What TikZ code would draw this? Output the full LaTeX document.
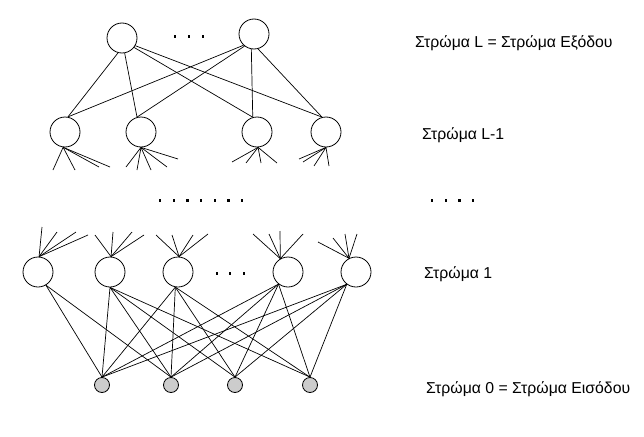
\documentclass[tikz,border=0pt]{standalone}
\usepackage{fontspec}
\setmainfont{Liberation Sans}
\begin{document}
\begin{tikzpicture}[x=1pt,y=-1pt,
  neuron/.style={circle,draw,line width=0.8pt,minimum size=30pt,inner sep=0pt,fill=white},
  inputunit/.style={circle,draw,fill=black!20,line width=0.8pt,minimum size=15pt,inner sep=0pt},
  link/.style={line width=0.7pt},
  layerlabel/.style={anchor=base west,inner sep=0pt,font=\fontsize{15.8}{18}\selectfont},
  dotmark/.style={fill=black}
]
\useasboundingbox (0,0) rectangle (644,436);

% output layer L
\node[neuron] (t1) at (122,38) {};
\node[neuron] (t2) at (254,34) {};

% layer L-1
\node[neuron] (h1) at (65,132) {};
\node[neuron] (h2) at (141,132) {};
\node[neuron] (h3) at (257,132) {};
\node[neuron] (h4) at (326,132) {};

% layer 1
\node[neuron] (a1) at (38,272) {};
\node[neuron] (a2) at (110,272) {};
\node[neuron] (a3) at (178,272) {};
\node[neuron] (a4) at (288,272) {};
\node[neuron] (a5) at (356,272) {};

% input layer 0
\node[inputunit] (x1) at (102,385) {};
\node[inputunit] (x2) at (171,385) {};
\node[inputunit] (x3) at (235,385) {};
\node[inputunit] (x4) at (310,385) {};

% layer L-1 -> layer L
\draw[link] (t1.-105) -- (h1.79);
\draw[link] (t1.-80)  -- (h2.105);
\draw[link] (t1.-38)  -- (h3.106);
\draw[link] (t1.-30)  -- (h4.105);
\draw[link] (t2.-133) -- (h1.79);
\draw[link] (t2.-128) -- (h2.105);
\draw[link] (t2.-100) -- (h3.106);
\draw[link] (t2.-75)  -- (h4.105);

% connections leaving layer L-1 downwards
\foreach \x/\y [count=\i] in {53/170,75/170,99/167,110/167}
  {\coordinate (p1\i) at (\x,\y); \draw[link] (h1.-97) -- (p1\i);}
\foreach \x/\y [count=\i] in {126/167,137/170,151/170,167/167,178/159}
  {\coordinate (p2\i) at (\x,\y); \draw[link] (h2.-90) -- (p2\i);}
\foreach \x/\y [count=\i] in {232/162,246/163,261/163,277/163}
  {\coordinate (p3\i) at (\x,\y); \draw[link] (h3.-86) -- (p3\i);}
\foreach \x/\y [count=\i] in {299/159,303/162,314/166,329/166}
  {\coordinate (p4\i) at (\x,\y); \draw[link] (h4.-90) -- (p4\i);}

% connections entering layer 1 from above
\foreach \x/\y [count=\i] in {42/227,57/232,76/232,88/235}
  {\coordinate (q1\i) at (\x,\y); \draw[link] (a1.86) -- (q1\i);}
\foreach \x/\y [count=\i] in {95/235,113/232,132/232,144/235}
  {\coordinate (q2\i) at (\x,\y); \draw[link] (a2.86) -- (q2\i);}
\foreach \x/\y [count=\i] in {156/235,172/235,193/235,208/234}
  {\coordinate (q3\i) at (\x,\y); \draw[link] (a3.86) -- (q3\i);}
\foreach \x/\y [count=\i] in {253/234,269/234,280/231,303/234}
  {\coordinate (q4\i) at (\x,\y); \draw[link] (a4.120) -- (q4\i);}
\foreach \x/\y [count=\i] in {318/242,333/238,345/234,357/234}
  {\coordinate (q5\i) at (\x,\y); \draw[link] (a5.117) -- (q5\i);}

% layer 0 -> layer 1
\draw[link] (a1.-59) -- (x1.north);
\draw[link] (a1.-59) -- (x2.north);
\foreach \j in {1,...,4} {
  \draw[link] (a2.-90)  -- (x\j.north);
  \draw[link] (a3.-100) -- (x\j.north);
  \draw[link] (a4.-128) -- (x\j.north);
  \draw[link] (a5.-127) -- (x\j.north);
}

% ellipsis marks
\foreach \x in {175,189,203} \fill[dotmark] (\x-1.2,35) rectangle +(2.4,2.6);
\foreach \x in {0,...,6} \fill[dotmark] (160+13.7*\x-1.2,199) rectangle +(2.4,2.6);
\foreach \x in {0,...,3} \fill[dotmark] (432+13.7*\x-1.2,199) rectangle +(2.4,2.6);
\foreach \x in {217,230,244} \fill[dotmark] (\x-1.2,272) rectangle +(2.4,2.6);

% layer captions
\node[layerlabel] (lL)  at (415,47.5) {Στρώμα L = Στρώμα Εξόδου};
\node[layerlabel] (lL1) at (422,139)  {Στρώμα L-1};
\node[layerlabel] (l1)  at (424,278)  {Στρώμα 1};
\node[layerlabel] (l0)  at (426,393)  {Στρώμα 0 = Στρώμα Εισόδου};
\end{tikzpicture}
\end{document}
